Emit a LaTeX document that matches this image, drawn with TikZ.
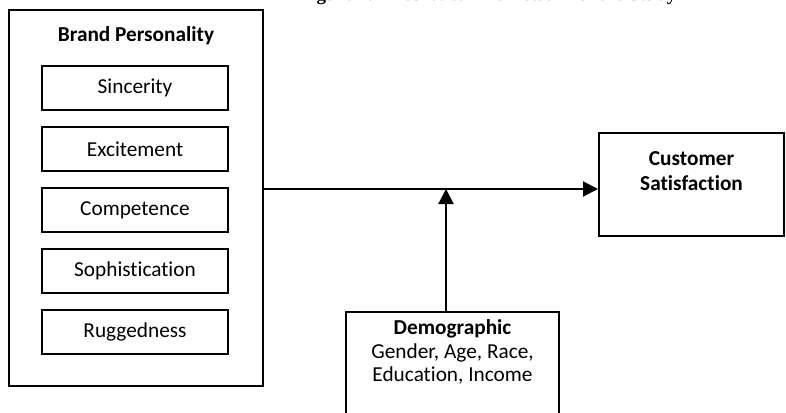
\documentclass[tikz,border=0pt]{standalone}
\usepackage{fontspec}
\setmainfont{Carlito}[Ligatures={NoCommon}]
\newfontfamily\capfont{Liberation Serif}
\usetikzlibrary{positioning,arrows.meta}
\tikzstyle{frame} = [draw,line width=2pt,inner sep=0pt]
\tikzstyle{dim} = [frame,minimum width=186pt,minimum height=44pt]
\tikzstyle{edge} = [draw,line width=2pt,-{Triangle[length=15pt,width=15pt]}]

\begin{document}
\begin{tikzpicture}[x=1pt,y=-1pt,font=\fontsize{21.3}{23.5}\selectfont,node distance=61pt,on grid]
   \useasboundingbox (0,0) rectangle (786,412);
   \clip (0,0) rectangle (786,412);
   % caption, cut off by the top edge
   \node[anchor=base,font=\capfont\bfseries\fontsize{19}{23}\selectfont] (caption) at (488,1) {Figure 1: Theoretical Framework of the Study};

   \node[frame,minimum width=254pt,minimum height=376pt] (bp) at (136,198) {};
   \node[font=\bfseries\fontsize{21.3}{23.5}\selectfont] (bptitle) at (136,36) {Brand Personality};
   \node[dim] (sinc) at (135,88) {Sincerity};
   \node[dim,below=of sinc] (exc) {Excitement};
   \node[dim,below=of exc] (comp) {Competence};
   \node[dim,below=of comp] (soph) {Sophistication};
   \node[dim,below=of soph] (rugg) {Ruggedness};

   \node[frame,minimum width=185pt,minimum height=103pt] (cs) at (691.5,184.5) {};
   \node[align=center,font=\bfseries\fontsize{21.3}{25}\selectfont] (cstext) at (691.5,171) {Customer\\Satisfaction};

   \node[frame,minimum width=213pt,minimum height=128pt] (demo) at (452.5,376) {};
   \node[align=center] (demotext) at (452.5,352) {\textbf{Demographic}\\Gender, Age, Race,\\Education, Income};

   \coordinate (j) at (446,189);
   \path[edge] (bp.east |- j) -- (cs.west |- j);
   \path[edge] (demo.north -| j) -- (j);
\end{tikzpicture}
\end{document}
